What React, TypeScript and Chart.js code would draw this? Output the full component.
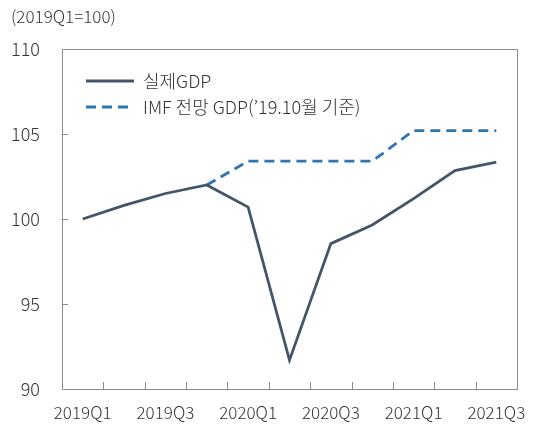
import React, { useEffect, useRef } from "react";
import { Chart, registerables } from "chart.js";

Chart.register(...registerables);

const categories = ["2019Q1", "2019Q2", "2019Q3", "2019Q4", "2020Q1", "2020Q2", "2020Q3", "2020Q4", "2021Q1", "2021Q2", "2021Q3"];
const actualGdp = [100.0, 100.8, 101.5, 102.0, 100.7, 91.7, 98.55, 99.65, 101.2, 102.85, 103.35];
const imfGdp = [null, null, null, 102.0, 103.4, 103.4, 103.4, 103.4, 105.2, 105.2, 105.2];
const yTicks = [90, 95, 100, 105, 110];
const seriesNames = ["실제GDP", "IMF 전망 GDP(’19.10월 기준)"];
const unitLabel = "(2019Q1=100)";

const FONT = "'Noto Sans CJK KR', 'Noto Sans', sans-serif";
const WEIGHT = "300";
const TEXT = "#333333";
const AXIS = "#8c8c8c";
const C_ACTUAL = "#44546a";
const C_IMF = "#2e75b6";

const framePlugin = {
  id: "frame",
  afterDraw(chart: any) {
    const { ctx, chartArea: a, scales } = chart;
    const x = scales.x;
    const y = scales.y;
    ctx.save();
    ctx.strokeStyle = AXIS;
    ctx.lineWidth = 1;
    ctx.strokeRect(Math.round(a.left) + 0.5, Math.round(a.top) + 0.5, Math.round(a.right - a.left), Math.round(a.bottom - a.top));
    ctx.beginPath();
    yTicks.forEach((v) => {
      const py = Math.round(y.getPixelForValue(v)) + 0.5;
      ctx.moveTo(a.left, py);
      ctx.lineTo(a.left + 6, py);
    });
    for (let i = 0; i < categories.length - 1; i++) {
      const px = Math.round((x.getPixelForValue(i) + x.getPixelForValue(i + 1)) / 2) + 0.5;
      ctx.moveTo(px, a.bottom);
      ctx.lineTo(px, a.bottom - 7);
    }
    ctx.stroke();

    // unit label
    ctx.fillStyle = TEXT;
    ctx.font = `${WEIGHT} 17px ${FONT}`;
    ctx.textAlign = "left";
    ctx.textBaseline = "middle";
    ctx.fillText(unitLabel, 11, 17);

    // legend
    const lx0 = a.left + 24;
    const lx1 = a.left + 72;
    const tx = a.left + 81;
    const rows = [a.top + 32, a.top + 58];
    ctx.font = `${WEIGHT} 18px ${FONT}`;
    ctx.lineWidth = 2.8;
    ctx.strokeStyle = C_ACTUAL;
    ctx.setLineDash([]);
    ctx.beginPath();
    ctx.moveTo(lx0, rows[0]);
    ctx.lineTo(lx1, rows[0]);
    ctx.stroke();
    ctx.strokeStyle = C_IMF;
    ctx.setLineDash([10, 6]);
    ctx.beginPath();
    ctx.moveTo(lx0, rows[1]);
    ctx.lineTo(lx1, rows[1]);
    ctx.stroke();
    ctx.setLineDash([]);
    ctx.fillStyle = TEXT;
    ctx.fillText(seriesNames[0], tx, rows[0]);
    ctx.fillText(seriesNames[1], tx, rows[1]);
    ctx.restore();
  },
};

export default function App() {
  const ref = useRef<HTMLCanvasElement>(null);
  useEffect(() => {
    document.body.style.margin = "0";
    const chart = new Chart(ref.current!, {
      type: "line",
      data: {
        labels: categories,
        datasets: [
          {
            label: seriesNames[0],
            data: actualGdp,
            borderColor: C_ACTUAL,
            borderWidth: 2.8,
            pointRadius: 0,
            tension: 0,
          },
          {
            label: seriesNames[1],
            data: imfGdp,
            borderColor: C_IMF,
            borderWidth: 2.8,
            borderDash: [10, 6],
            pointRadius: 0,
            tension: 0,
          },
        ],
      },
      options: {
        animation: false,
        responsive: false,
        layout: { padding: { top: 49, right: 16, left: 0, bottom: 0 } },
        plugins: { legend: { display: false }, tooltip: { enabled: false } },
        scales: {
          x: {
            offset: true,
            grid: { display: false },
            border: { display: false },
            ticks: {
              autoSkip: false,
              maxRotation: 0,
              padding: 5,
              color: TEXT,
              font: { family: FONT, size: 17, weight: WEIGHT as any },
              callback: (_v: any, i: number) => (i % 2 === 0 ? categories[i] : ""),
            },
            afterFit: (s: any) => {
              s.height = 39;
              s.paddingLeft = 0;
              s.paddingRight = 0;
            },
          },
          y: {
            min: 90,
            max: 110,
            grid: { display: false },
            border: { display: false },
            ticks: {
              stepSize: 5,
              padding: 14,
              color: TEXT,
              font: { family: FONT, size: 18, weight: WEIGHT as any },
            },
            afterFit: (s: any) => {
              s.width = 62;
              s.paddingTop = 0;
              s.paddingBottom = 0;
            },
          },
        },
      },
      plugins: [framePlugin],
    });
    return () => chart.destroy();
  }, []);
  return <canvas ref={ref} width={533} height={428} style={{ display: "block" }} />;
}
